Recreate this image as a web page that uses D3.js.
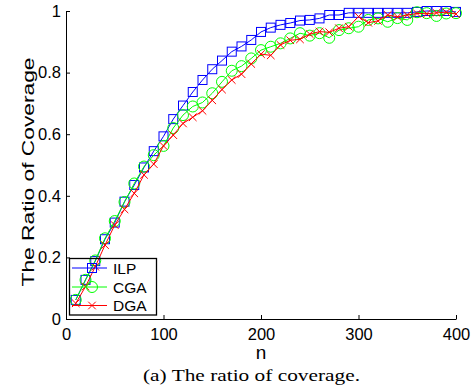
<!DOCTYPE html>
<html>
<head>
<meta charset="utf-8">
<script src="https://cdn.jsdelivr.net/npm/d3@7"></script>
<style>
  html, body { margin: 0; padding: 0; background: #fff; }
  svg { display: block; }
</style>
</head>
<body>
<svg id="chart" width="473" height="388"></svg>
<script>
// ---- data ----
const nValues = [10,20,30,40,50,60,70,80,90,100,110,120,130,140,150,160,170,180,190,200,
                 210,220,230,240,250,260,270,280,290,300,310,320,330,340,350,360,370,380,390,400];
const ilp = [0.062,0.127,0.188,0.259,0.313,0.381,0.435,0.492,0.545,0.593,
             0.649,0.693,0.737,0.776,0.811,0.839,0.868,0.885,0.906,0.932,
             0.946,0.955,0.961,0.969,0.971,0.976,0.987,0.987,0.994,0.994,
             0.994,0.994,0.994,0.994,0.994,0.997,1.000,1.000,1.000,0.997];
const cga = [0.062,0.127,0.190,0.262,0.318,0.380,0.440,0.495,0.532,0.562,
             0.620,0.662,0.690,0.703,0.733,0.770,0.806,0.821,0.846,0.873,
             0.884,0.895,0.911,0.928,0.920,0.928,0.913,0.938,0.944,0.949,
             0.971,0.976,0.965,0.977,0.971,0.996,0.993,0.984,0.992,0.993];
const dga = [0.051,0.105,0.170,0.240,0.305,0.356,0.408,0.468,0.503,0.562,
             0.597,0.635,0.655,0.676,0.710,0.745,0.776,0.795,0.828,0.860,
             0.856,0.890,0.905,0.908,0.925,0.933,0.931,0.944,0.949,0.982,
             0.962,0.968,0.987,0.981,0.987,0.992,0.991,0.994,0.996,0.990];
const seriesNames = ["ILP", "CGA", "DGA"];
const seriesColors = ["#0000ff", "#00ff00", "#ff0000"];
const seriesMarkers = ["square", "circle", "cross"];
const xTicks = [0, 100, 200, 300, 400];
const yTicks = [0, 0.2, 0.4, 0.6, 0.8, 1];
const xLabel = "n";
const yLabel = "The Ratio of Coverage";
const caption = "(a) The ratio of coverage.";

// ---- layout ----
const svg = d3.select("#chart");
const plotLeft = 66, plotRight = 456, plotTop = 11, plotBottom = 319;
const x = d3.scaleLinear().domain([0, 400]).range([plotLeft, plotRight]);
const y = d3.scaleLinear().domain([0, 1]).range([plotBottom, plotTop]);
const sansFont = "'Liberation Sans', Arial, Helvetica, sans-serif";
const serifFont = "'Liberation Serif', 'Times New Roman', serif";

// axes
const xAxis = d3.axisBottom(x).tickValues(xTicks).tickFormat(d3.format("d"))
  .tickSizeInner(-4).tickSizeOuter(0).tickPadding(9);
const yAxis = d3.axisLeft(y).tickValues(yTicks).tickFormat(d => d === 0 || d === 1 ? String(d) : d3.format(".1f")(d))
  .tickSizeInner(-4).tickSizeOuter(0).tickPadding(5);

const gx = svg.append("g").attr("transform", `translate(0,${plotBottom})`).call(xAxis);
const gy = svg.append("g").attr("transform", `translate(${plotLeft},0)`).call(yAxis);
[gx, gy].forEach(g => {
  g.selectAll("path.domain").attr("stroke", "#000").attr("stroke-width", 1);
  g.selectAll(".tick line").attr("stroke", "#000").attr("stroke-width", 1);
  g.selectAll(".tick text").attr("fill", "#000").style("font-family", sansFont).style("font-size", "16.5px");
});

// series data
const seriesData = [ilp, cga, dga].map((vals, i) => ({
  name: seriesNames[i], color: seriesColors[i], marker: seriesMarkers[i],
  points: nValues.map((n, j) => ({ n, v: vals[j] }))
}));

function drawMarker(g, type, cx, cy, color) {
  if (type === "square") {
    g.append("rect").attr("x", cx - 4.5).attr("y", cy - 4.5).attr("width", 9).attr("height", 9)
      .attr("fill", "none").attr("stroke", color).attr("stroke-width", 1);
  } else if (type === "circle") {
    g.append("circle").attr("cx", cx).attr("cy", cy).attr("r", 5.5)
      .attr("fill", "none").attr("stroke", color).attr("stroke-width", 1);
  } else {
    const s = 3.8;
    g.append("path").attr("d", `M${cx - s},${cy - s}L${cx + s},${cy + s}M${cx - s},${cy + s}L${cx + s},${cy - s}`)
      .attr("fill", "none").attr("stroke", color).attr("stroke-width", 1);
  }
}

const line = d3.line().x(d => x(d.n)).y(d => y(d.v));
seriesData.forEach(s => {
  const g = svg.append("g");
  g.append("path").datum(s.points).attr("d", line).attr("fill", "none")
    .attr("stroke", s.color).attr("stroke-width", 1);
  s.points.forEach(p => drawMarker(g, s.marker, x(p.n), y(p.v), s.color));
});

// legend
const lg = svg.append("g");
lg.append("rect").attr("x", 69.5).attr("y", 258.5).attr("width", 87).attr("height", 56.5)
  .attr("fill", "none").attr("stroke", "#000").attr("stroke-width", 1.3);
const legendY = [268, 287, 305.5];
seriesData.forEach((s, i) => {
  lg.append("line").attr("x1", 72).attr("x2", 107).attr("y1", legendY[i]).attr("y2", legendY[i])
    .attr("stroke", s.color).attr("stroke-width", 1);
  drawMarker(lg, s.marker, 92, legendY[i], s.color);
  lg.append("text").attr("x", 113).attr("y", legendY[i]).attr("dy", "0.36em")
    .style("font-family", sansFont).style("font-size", "15.5px").attr("fill", "#000").text(s.name);
});

// axis labels
svg.append("text").attr("x", x(200)).attr("y", 352).attr("dy", "0.36em").attr("text-anchor", "middle")
  .style("font-family", sansFont).style("font-size", "19px").attr("fill", "#000").text(xLabel);
svg.append("text").attr("transform", `translate(28,${172}) rotate(-90)`).attr("dy", "0.36em")
  .attr("text-anchor", "middle").attr("textLength", 229).attr("lengthAdjust", "spacingAndGlyphs")
  .style("font-family", sansFont).style("font-size", "17px").attr("fill", "#000").text(yLabel);
svg.append("text").attr("x", 251.5).attr("y", 376).attr("dy", "0.33em").attr("text-anchor", "middle")
  .attr("textLength", 217).attr("lengthAdjust", "spacingAndGlyphs")
  .style("font-family", serifFont).style("font-size", "16.5px").attr("fill", "#000").text(caption);
</script>
</body>
</html>
